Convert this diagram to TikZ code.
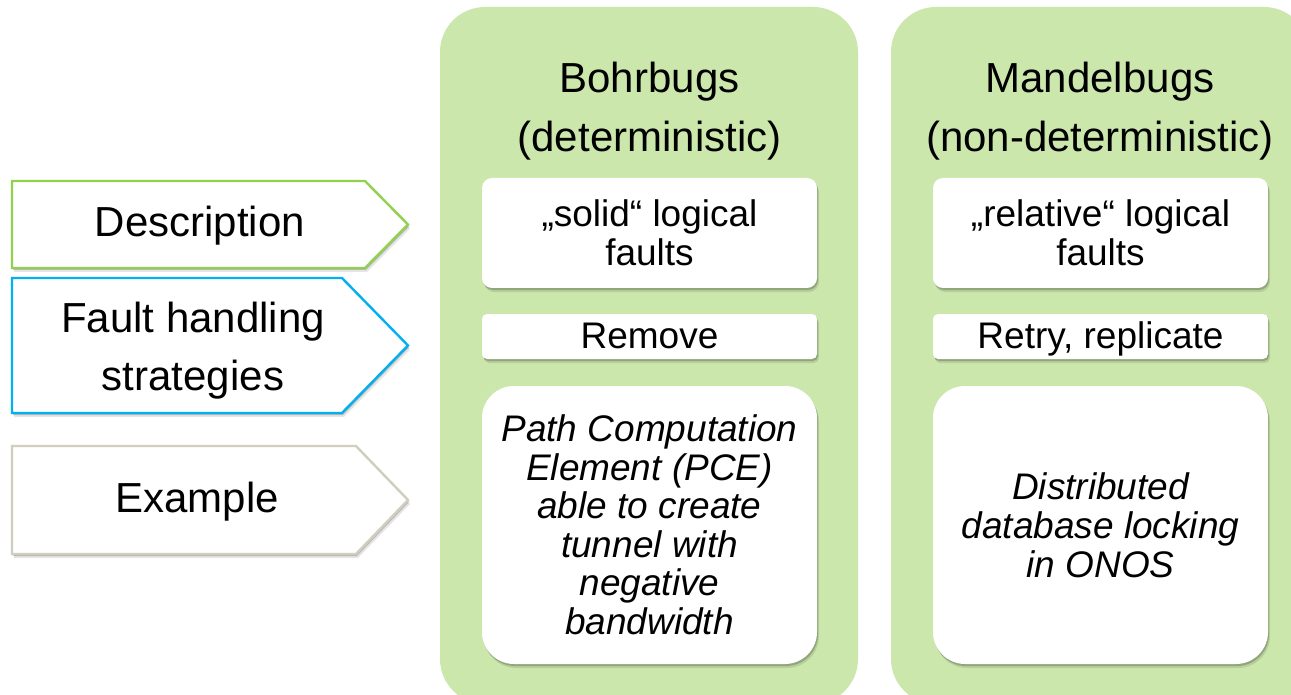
\documentclass[tikz,border=0pt]{standalone}
\usepackage{fontspec}
\setmainfont{Liberation Sans}
\usetikzlibrary{shadows}
\definecolor{panelgreen}{RGB}{203,231,172}
\definecolor{descgreen}{RGB}{146,208,80}
\definecolor{faultblue}{RGB}{0,176,240}
\definecolor{examplegray}{RGB}{208,206,190}
\tikzset{
  soft shadow/.style={
    drop shadow={shadow xshift=2pt, shadow yshift=-4pt, fill=black, opacity=.10},
    drop shadow={shadow xshift=1pt, shadow yshift=-2pt, fill=black, opacity=.20}},
  panel/.style={rectangle, fill=panelgreen, rounded corners=45pt, inner sep=0pt, outer sep=0pt,
    minimum width=418pt, minimum height=697pt},
  card/.style={rectangle, fill=white, inner sep=0pt, outer sep=0pt, align=center,
    minimum width=335pt, font=\fontsize{37}{39}\selectfont, soft shadow},
  oneline/.style={text height=28pt, text depth=5pt},
  tab/.style={fill=white, line width=2.4pt, line join=miter, soft shadow},
  tablabel/.style={align=center, inner sep=0pt, font=\fontsize{42}{58}\selectfont},
  heading/.style={anchor=base, inner sep=0pt, font=\fontsize{42}{48}\selectfont},
}
\begin{document}
\begin{tikzpicture}[x=1pt, y=-1pt]
  \useasboundingbox (0,0) rectangle (1291,695);
  \clip (0,0) rectangle (1291,695);
  \fill[white] (0,0) rectangle (1291,695);

  % two category columns
  \node[panel] (bohr) at (649,355.5) {};
  \node[panel] (mandel) at (1100,355.5) {};

  % column headings
  \node[heading] (bohrA) at (649.5,93) {Bohrbugs};
  \node[heading] (bohrB) at (649.5,152) {(deterministic)};
  \node[heading] (mandelA) at (1100,93) {Mandelbugs};
  \node[heading] (mandelB) at (1100,152) {(non-deterministic)};

  % row tabs on the left
  \draw[tab, draw=descgreen] (12,181) -- (365,181) -- (408,224.5) -- (365,268) -- (12,268) -- cycle;
  \node[tablabel] (desc) at (200,226) {Description};

  \draw[tab, draw=faultblue] (12,278) -- (342,278) -- (408,345.5) -- (342,413) -- (12,413) -- cycle;
  \node[tablabel] (fault) at (193,351) {Fault handling\\strategies};

  \draw[tab, draw=examplegray] (12,446) -- (356,446) -- (408,500) -- (356,554) -- (12,554) -- cycle;
  \node[tablabel] (example) at (197,502) {Example};

  % Bohrbugs cards
  \node[card, minimum height=110pt, rounded corners=10pt] (bdesc) at (649.5,233)
    {„solid“ logical\\faults};
  \node[card, oneline, minimum height=45pt, rounded corners=5pt] (bfix) at (649.5,336.5) {Remove};
  \node[card, minimum height=278pt, rounded corners=32pt, font=\fontsize{37}{38.5}\selectfont\itshape]
    (bex) at (649.5,525)
    {Path Computation\\Element (PCE)\\able to create\\tunnel with\\negative\\bandwidth};

  % Mandelbugs cards
  \node[card, minimum height=110pt, rounded corners=10pt] (mdesc) at (1100.5,233)
    {„relative“ logical\\faults};
  \node[card, oneline, minimum height=45pt, rounded corners=5pt] (mfix) at (1100.5,336.5) {Retry, replicate};
  \node[card, minimum height=278pt, rounded corners=32pt, font=\fontsize{37}{39}\selectfont\itshape]
    (mex) at (1100.5,525)
    {Distributed\\database locking\\in ONOS};
\end{tikzpicture}
\end{document}
